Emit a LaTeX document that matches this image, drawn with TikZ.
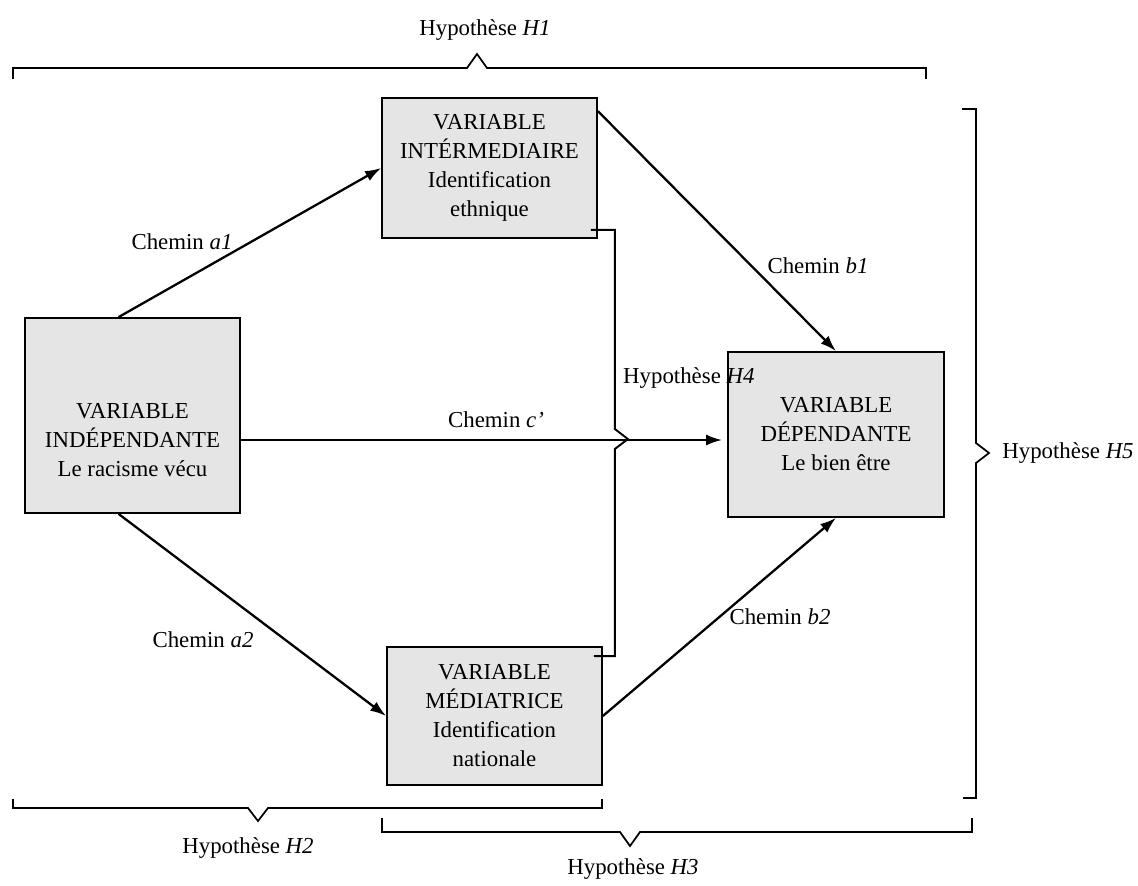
\documentclass[tikz,border=0pt]{standalone}
\usepackage{fontspec}
\setmainfont{Liberation Serif}
\usepackage{tikz}
\usetikzlibrary{arrows.meta,calc,positioning}

\begin{document}
\begin{tikzpicture}[x=0.02cm,y=-0.02cm,font=\fontsize{13}{16.5}\selectfont,
  varbox/.style={draw,line width=1pt,fill=black!10,minimum width=4.3cm,align=center},
  chemin/.style={line width=1.3pt,-{Latex[length=3.2mm,width=2.2mm]}},
  accolade/.style={line width=1pt},
  hline/.style={line width=1.1pt}]
\useasboundingbox (0,0) rectangle (1138,885);
% boxes
\node[varbox,minimum height=2.8cm] (inter) at (489.5,168) {VARIABLE\\INTÉRMEDIAIRE\\Identification\\ethnique};
\node[varbox,minimum height=3.9cm] (indep) at (132.5,415.5) {};
\node[align=center] (indeptxt) at (132.5,440) {VARIABLE\\INDÉPENDANTE\\Le racisme vécu};
\node[varbox,minimum height=3.3cm,minimum width=4.32cm] (dep) at (836,434.5) {VARIABLE\\DÉPENDANTE\\Le bien être};
\node[varbox,minimum height=2.76cm] (med) at (494.5,716) {VARIABLE\\MÉDIATRICE\\Identification\\nationale};
% paths
\draw[chemin] ([xshift=-0.28cm]indep.north) -- (inter.west);
\draw[chemin] ([yshift=-0.28cm]inter.north east) -- (dep.north);
\draw[chemin] (indep.east |- indeptxt.center) -- ([xshift=-0.1cm]dep.west |- indeptxt.center);
\draw[chemin] ([xshift=-0.28cm]indep.south) -- (med.west);
\draw[chemin] (med.east) -- (dep.south);
\node (a1) at (182,242) {Chemin \textit{a1}};
\node (b1) at (818,266) {Chemin \textit{b1}};
\node (cp) at (496,420) {Chemin \textit{c’}};
\node (a2) at (203,640) {Chemin \textit{a2}};
\node (b2) at (780,617) {Chemin \textit{b2}};
% hypothesis H4
\coordinate (h4top) at ($(inter.south east)+(-7,-9)$);
\coordinate (h4bot) at ($(med.north east)+(-9,10)$);
\draw[hline] (h4top) -- ++(24,0) coordinate (h4r) -- (h4r |- 0,429) -- ++(13,10) -- ++(-13,10) -- (h4r |- h4bot) -- (h4bot);
\node[anchor=west] (h4) at (617,378) {Hypothèse \textit{H4}};
% braces
\draw[accolade] (13,79) -- (13,68) -- (467,68) -- (477,54) -- (487,68) -- (926,68) -- (926,79);
\node (h1) at (485,30) {Hypothèse \textit{H1}};
\draw[accolade] (962,109) -- (976,109) -- (976,443) -- (989,453) -- (976,463) -- (976,798) -- (963,798);
\node (h5) at (1068,453) {Hypothèse \textit{H5}};
\draw[accolade] (13,799) -- (13,808) -- (248,808) -- (258,821) -- (268,808) -- (602,808) -- (602,799);
\node (h2) at (248,848) {Hypothèse \textit{H2}};
\draw[accolade] (382,818) -- (382,832) -- (620,832) -- (630,846) -- (640,832) -- (972,832) -- (972,818);
\node (h3) at (633,869) {Hypothèse \textit{H3}};
\end{tikzpicture}
\end{document}
